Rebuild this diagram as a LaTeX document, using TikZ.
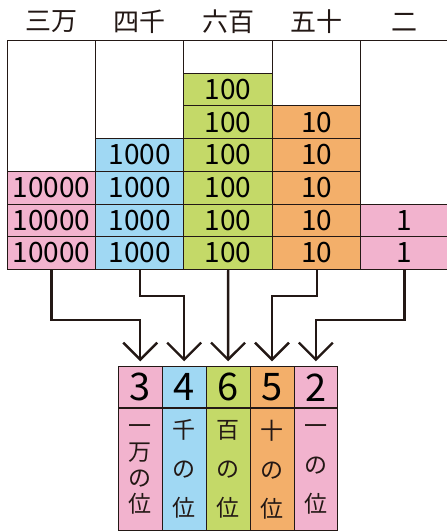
\documentclass[tikz,border=0pt]{standalone}
\usepackage{fontspec}
\newfontfamily\jp{Noto Sans CJK JP}
\usetikzlibrary{arrows.meta}
\definecolor{ink}{HTML}{231815}
\definecolor{cpink}{HTML}{F2B3CE}
\definecolor{cblue}{HTML}{A0D8F3}
\definecolor{cgreen}{HTML}{C4D968}
\definecolor{corange}{HTML}{F3AF6A}

\begin{document}
\begin{tikzpicture}[x=1pt, y=-1pt, >={Straight Barb[length=17pt,width=34pt]},
	cell/.style={draw=ink, line width=0.8pt, inner sep=0pt, minimum height=32.7pt,
		font=\jp\fontsize{28}{28}\selectfont},
	head/.style={font=\jp\fontsize{26}{26}\selectfont, text=ink},
	digit/.style={draw=ink, line width=0.8pt, inner sep=0pt, minimum width=43.9pt,
		minimum height=41pt, font=\jp\fontsize{38}{38}\selectfont},
	place/.style={draw=ink, line width=0.8pt, inner sep=0pt, minimum width=43.9pt,
		minimum height=121.6pt},
	frame/.style={draw=ink, line width=0.8pt},
	arr/.style={->, draw=ink, line width=2.4pt, shorten >=5pt}]
\useasboundingbox (0,0) rectangle (447,531);
%========================
% Top: blocks by column
%========================
\foreach \i/\x/\w/\n/\val/\col/\lab in {
	1/51.35/88.7/3/10000/cpink/三万,
	2/139.7/88/4/1000/cblue/四千,
	3/228.2/89/6/100/cgreen/六百,
	4/316.7/88/5/10/corange/五十,
	5/404.35/87.3/2/1/cpink/二}{
	\node[head] (h\i) at (\x,22) {\lab};
	\foreach \k in {1,...,\n}
		\node[cell, fill=\col, minimum width=\w pt, anchor=south] (c\i-\k)
			at (\x,{269.7-(\k-1)*32.7}) {\val};
}
% column frames
\draw[frame] (7,269.7) -- (7,40.7) -- (448,40.7);
\foreach \x in {95.7,183.7,272.7,360.7}
	\draw[frame] (\x,40.7) -- (\x,269.7);

%========================
% Bottom: place value table
%========================
\foreach \i/\d/\col/\txt/\sk in {
	1/3/cpink/{一\\万\\の\\位}/26,
	2/4/cblue/{千\\の\\位}/39,
	3/6/cgreen/{百\\の\\位}/39,
	4/5/corange/{十\\の\\位}/39,
	5/2/cpink/{一\\の\\位}/39}{
	\node[digit, fill=\col] (d\i) at ({118.3+(\i-0.5)*43.9},387.2) {\d};
	\node[place, fill=\col, anchor=north] (p\i) at (d\i.south) {};
	\node[align=center, text=ink, font=\jp\fontsize{23}{\sk}\selectfont] (t\i)
		at (p\i.center) {\txt};
}

% arrows
\draw[arr] (c1-1.south) -- ++(0,50.3) -| (d1.north);
\draw[arr] (c2-1.south) -- ++(0,26.3) -| (d2.north);
\draw[arr] (c3-1.south) -- (d3.north);
\draw[arr] (c4-1.south) -- ++(0,26.3) -| (d4.north);
\draw[arr] (c5-1.south) -- ++(0,50.3) -| (d5.north);
\end{tikzpicture}
\end{document}
